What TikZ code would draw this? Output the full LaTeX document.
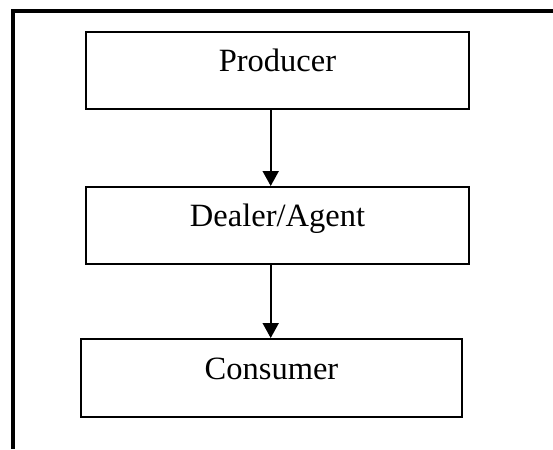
\documentclass[tikz,border=0pt]{standalone}
\usepackage{fontspec}
\setmainfont{Liberation Serif}
\usetikzlibrary{arrows.meta}
\begin{document}
\begin{tikzpicture}[x=1pt,y=-1pt,
  stagebox/.style={draw, line width=2pt, inner sep=0pt,
    font=\fontsize{32.5}{38}\selectfont, text height=22pt, text depth=20pt},
  flow/.style={line width=1.9pt, -{Triangle[width=16pt,length=15pt]}},
  frame/.style={line width=4pt, line join=miter}]
\useasboundingbox (0,0) rectangle (553,449);
\fill[white] (0,0) rectangle (553,449);
\coordinate (fr) at (553,11.5);
\coordinate (fc) at (13,11.5);
\coordinate (fb) at (13,449);
\draw[frame] (fr) -- (fc) -- (fb);
\node[stagebox, minimum width=383pt, minimum height=77pt] (P) at (277.5,70.4) {Producer};
\node[stagebox, minimum width=383pt, minimum height=77pt] (D) at (277.5,225.5) {Dealer/Agent};
\node[stagebox, minimum width=381pt, minimum height=78pt] (C) at (271.5,378) {Consumer};
\coordinate (ax) at (270.7,0);
\draw[flow] (ax |- P.south) -- (ax |- D.north);
\draw[flow] (ax |- D.south) -- (ax |- C.north);
\end{tikzpicture}
\end{document}
